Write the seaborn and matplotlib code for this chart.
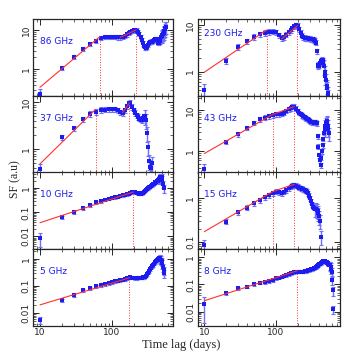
import numpy as np
import seaborn as sns
import matplotlib
matplotlib.use('Agg')
import matplotlib.pyplot as plt
from matplotlib.ticker import LogLocator, FuncFormatter, NullFormatter

sns.set_style('ticks')

# structure functions, lags every 10 days
sf_86 = [0.23, 1.1, 2.1, 3.3, 4.5, 5.3, 6.4, 6.6, 6.6, 6.6, 6.6, 6.5, 6.5, 6.8, 7.2, 7.8,
         8.4, 9.0, 9.5, 9.9, 10.0, 9.7, 9.0, 8.0, 6.8, 5.6, 4.6, 3.9, 3.6, 3.5, 3.7, 4.2,
         4.7, 5.0, 5.1, 5.0, 5.3, 5.6, 5.8, 5.9, 5.8, 5.5, 5.0, 4.7, 4.8, 5.2, 5.8, 6.5,
         7.0, 7.5, 8.0, 8.6, 9.5, 10.5, 11.5, 12.0]
sf_37 = [0.37, 1.78, 2.8, 4.4, 5.7, 6.3, 6.9, 7.0, 7.1, 7.2, 7.2, 6.8, 6.2, 6.0, 6.8, 8.2,
         9.6, 9.8, 8.0, 6.8, 6.0, 5.3, 4.9, 4.5, 4.3, 4.2, 4.6, 5.0, 5.1, 4.2, 2.2, 1.1,
         0.55, 0.42, 0.40, 0.5]
sf_10 = [0.009, 0.062, 0.099, 0.145, 0.2, 0.26, 0.29, 0.33, 0.37, 0.4, 0.42, 0.45, 0.48,
         0.5, 0.53, 0.57, 0.6, 0.64, 0.68, 0.7, 0.68, 0.64, 0.61, 0.6, 0.6, 0.62, 0.66,
         0.72, 0.8, 0.88, 0.95, 1.0, 1.08, 1.15, 1.25, 1.35, 1.45, 1.55, 1.65, 1.75, 1.85,
         1.95, 2.05, 2.2, 2.4, 2.6, 2.8, 2.9, 2.8, 2.3, 1.5, 1.0]
sf_5 = [0.0055, 0.030, 0.046, 0.071, 0.082, 0.1, 0.11, 0.118, 0.128, 0.14, 0.148, 0.155,
        0.163, 0.17, 0.178, 0.19, 0.2, 0.21, 0.205, 0.2, 0.195, 0.195, 0.2, 0.2, 0.205,
        0.205, 0.21, 0.215, 0.22, 0.24, 0.27, 0.31, 0.36, 0.41, 0.47, 0.53, 0.6, 0.67,
        0.74, 0.8, 0.86, 0.92, 0.98, 1.02, 1.05, 1.05, 1.02, 0.95, 0.82, 0.68, 0.5, 0.38, 0.3]
sf_230 = [0.41, 1.7, 3.4, 4.5, 5.6, 6.3, 6.8, 7.1, 7.2, 7.0, 6.0, 5.3, 5.5, 6.2, 7.0, 7.8,
          8.6, 9.3, 9.8, 9.6, 8.2, 6.8, 5.9, 5.4, 5.3, 5.2, 5.2, 5.2, 5.1, 5.1, 5.0, 5.0,
          4.9, 4.8, 4.6, 4.2, 2.7, 1.4, 1.3, 1.35, 1.5, 1.6, 1.7, 1.8, 1.75, 1.5, 1.3, 1.0,
          0.8, 0.66, 0.5, 0.45, 0.35, 0.3]
sf_43 = [0.38, 1.69, 2.6, 3.7, 4.9, 6.1, 6.6, 7.1, 7.6, 7.9, 8.0, 8.2, 8.8, 9.6, 10.5, 11.3,
         12.3, 12.3, 11.0, 9.6, 8.7, 8.1, 7.6, 7.1, 6.7, 6.4, 6.2, 6.0, 5.7, 5.4, 5.2, 5.1,
         5.1, 5.0, 5.1, 5.0, 4.8, 2.3, 1.3, 0.8, 0.6, 0.45, 0.7, 1.0, 1.4, 2.0, 2.8, 3.5,
         4.2, 4.8, 5.4, 5.0, 4.2, 3.4, 2.8]
sf_15 = [0.084, 0.29, 0.48, 0.61, 0.77, 0.91, 1.05, 1.19, 1.3, 1.42, 1.38, 1.3, 1.4, 1.55,
         1.7, 1.85, 1.95, 2.0, 1.95, 1.85, 1.75, 1.7, 1.65, 1.6, 1.55, 1.5, 1.42, 1.3, 1.15,
         1.0, 0.85, 0.72, 0.64, 0.6, 0.58, 0.56, 0.55, 0.5, 0.45, 0.38, 0.3, 0.13]
sf_8 = [0.019, 0.047, 0.072, 0.083, 0.102, 0.117, 0.124, 0.134, 0.146, 0.17, 0.18, 0.195,
        0.21, 0.225, 0.24, 0.255, 0.27, 0.285, 0.295, 0.3, 0.3, 0.3, 0.3, 0.3, 0.305, 0.31,
        0.32, 0.33, 0.34, 0.35, 0.36, 0.37, 0.38, 0.39, 0.41, 0.43, 0.46, 0.49, 0.53, 0.56,
        0.58, 0.61, 0.64, 0.67, 0.7, 0.72, 0.73, 0.73, 0.72, 0.7, 0.67, 0.64, 0.6, 0.57,
        0.54, 0.52, 0.5, 0.45, 0.38, 0.3, 0.15, 0.06, 0.012]

# fractional error for the first point (bigger) and the rest
err_first = {'86': 0.35, '37': 0.3, '10': 0.6, '5': 0.3, '230': 0.3, '43': 0.3, '15': 0.3, '8': 0.8}
err_rest = 0.13

# broken power-law fits: (lag, sf) nodes; breaks = lags of dotted lines
fit_86 = ([10, 68], [0.35, 6.8], [130, 215], [6.5, 10.0])
fit_37 = ([10, 59], [0.48, 7.1], [140, 174], [6.0, 9.8])
fit_230 = ([10, 74], [0.97, 7.8], [120, 198], [5.0, 9.5])
fit_43 = ([10, 90], [0.88, 7.9], [90, 180], [7.9, 12.3])
fit_10 = ([10, 198], [0.037, 0.7], None, None)
fit_5 = ([10, 174], [0.02, 0.2], None, None)
fit_15 = ([10, 90], [0.17, 1.42], [90, 180], [1.42, 2.1])
fit_8 = ([10, 198], [0.025, 0.32], None, None)

panels = [
    ('86', '86 GHz', sf_86, fit_86, (0.21, 18.5)),
    ('230', '230 GHz', sf_230, fit_230, (0.30, 13.1)),
    ('37', '37 GHz', sf_37, fit_37, (0.31, 13.6)),
    ('43', '43 GHz', sf_43, fit_43, (0.30, 22.0)),
    ('10', '10 GHz', sf_10, fit_10, (0.003, 4.5)),
    ('15', '15 GHz', sf_15, fit_15, (0.068, 3.9)),
    ('5', '5 GHz', sf_5, fit_5, (0.0034, 2.3)),
    ('8', '8 GHz', sf_8, fit_8, (0.003, 2.0)),
]

fig = plt.figure(figsize=(3.59, 3.59), dpi=100)
lefts = [0.0933, 0.5515]
widths = [0.3886, 0.3955]
bottoms = [0.7326, 0.5189, 0.3064, 0.0928]
h = 0.2131
xlims = [(8.12, 703), (8.17, 781)]

blue = '#1c1cf0'
ebar = '#6f6ffa'
red = '#ff3030'
fmt = FuncFormatter(lambda v, p: '%g' % v)

for i, (key, label, sf, fit, ylim) in enumerate(panels):
    row, col = divmod(i, 2)
    ax = fig.add_axes([lefts[col], bottoms[row], widths[col], h])
    lag = np.arange(10, 10 * len(sf) + 1, 10)
    sf = np.array(sf)
    rel = np.full(len(sf), err_rest)
    rel[0] = err_first[key]
    rel[-8:] = 0.35
    yerr_lo = np.minimum(sf * rel, sf * 0.9)
    ax.errorbar(lag, sf, yerr=[yerr_lo, sf * rel], fmt='none', ecolor=ebar,
                elinewidth=1.0, capsize=1.5, capthick=0.8, zorder=2)
    sns.scatterplot(x=lag, y=sf, ax=ax, marker='s', s=9, color=blue,
                    edgecolor=blue, linewidth=0, zorder=3)
    x1, y1, x2, y2 = fit
    sns.lineplot(x=x1, y=y1, ax=ax, color=red, lw=0.8, zorder=4)
    ax.vlines(x1[1], ylim[0], y1[1], colors=red, linestyles=':', lw=0.7, zorder=1)
    if x2 is not None:
        sns.lineplot(x=x2, y=y2, ax=ax, color=red, lw=0.8, zorder=4)
        ax.vlines(x2[1], ylim[0], y2[1], colors=red, linestyles=':', lw=0.7, zorder=1)

    ax.set_xscale('log')
    ax.set_yscale('log')
    ax.set_xlim(*xlims[col])
    ax.set_ylim(*ylim)
    ax.yaxis.set_major_locator(LogLocator(base=10))
    ax.yaxis.set_minor_locator(LogLocator(base=10, subs=np.arange(2, 10)))
    ax.yaxis.set_major_formatter(fmt)
    ax.yaxis.set_minor_formatter(NullFormatter())
    ax.xaxis.set_major_formatter(fmt)
    ax.xaxis.set_minor_formatter(NullFormatter())
    ax.tick_params(which='both', direction='in', top=True, right=True, labelsize=6.5, pad=2)
    ax.tick_params(which='major', length=4, width=0.7)
    ax.tick_params(which='minor', length=2, width=0.5)
    for lab in ax.get_yticklabels():
        lab.set_rotation(90)
        lab.set_va('center')
    if row < 3:
        ax.tick_params(axis='x', labelbottom=False)
    for sp in ax.spines.values():
        sp.set_linewidth(0.9)
    ty = 0.82 if key == '230' else 0.71
    ax.text(0.045, ty, label, transform=ax.transAxes, color=blue, fontsize=6.5,
            ha='left', va='center')

fig.text(0.505, 0.040, 'Time lag (days)', ha='center', va='center',
         fontsize=9, family='Liberation Serif')
fig.text(0.042, 0.50, 'SF (a.u)', ha='center', va='center', rotation=90,
         fontsize=8.5, family='Liberation Serif')

fig.savefig('out.png', dpi=100)
